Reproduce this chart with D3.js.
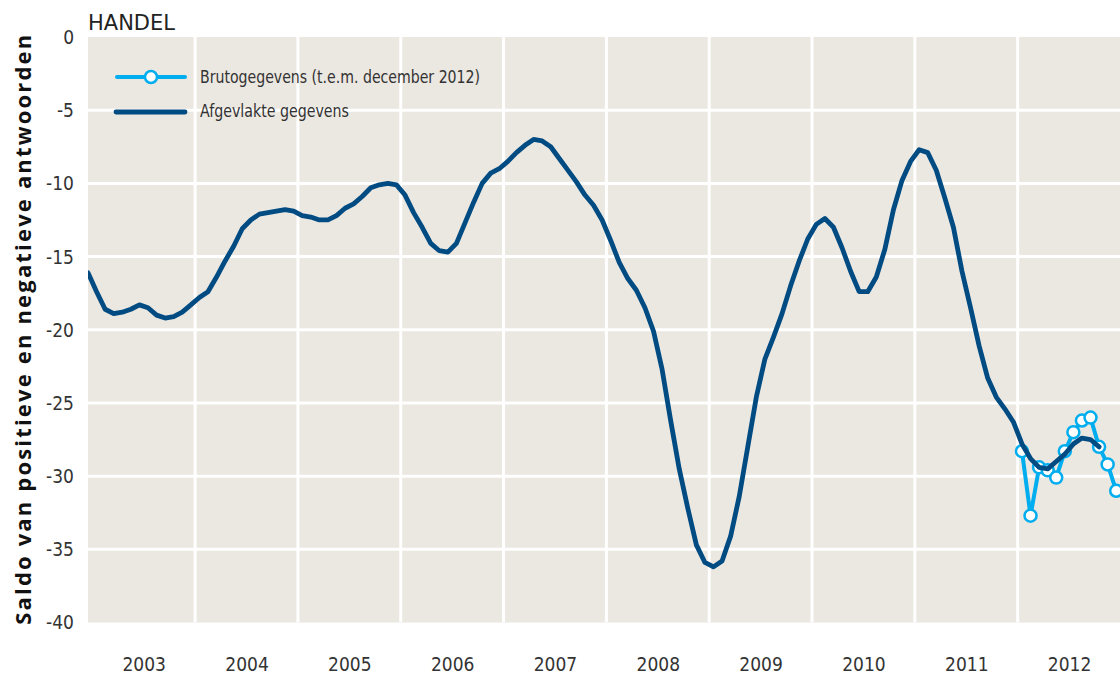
<!DOCTYPE html>
<html>
<head>
<meta charset="utf-8">
<script src="https://cdn.jsdelivr.net/npm/d3@7"></script>
<style>
  html, body { margin: 0; padding: 0; background: #ffffff; }
  svg { display: block; }
  .tick-label { font-family: "Liberation Sans Narrow", "DejaVu Sans Condensed", "Roboto", sans-serif; font-stretch: condensed; fill: #333; }
</style>
</head>
<body>
<svg id="chart" width="1120" height="673"></svg>
<script>
// Monthly smoothed series, December 2002 through October 2012
const smoothStart = { year: 2002, month: 12 };
const smoothValues = [
  -16.1, -17.4, -18.6, -18.9, -18.8, -18.6, -18.3, -18.5, -19.0, -19.2, -19.1, -18.8,
  -18.3, -17.8, -17.4, -16.4, -15.3, -14.3, -13.1, -12.5, -12.1, -12.0, -11.9, -11.8,
  -11.9, -12.2, -12.3, -12.5, -12.5, -12.2, -11.7, -11.4, -10.9, -10.3, -10.1, -10.0,
  -10.1, -10.8, -12.0, -13.0, -14.1, -14.6, -14.7, -14.1, -12.7, -11.3, -10.0, -9.3,
  -9.0, -8.5, -7.9, -7.4, -7.0, -7.1, -7.5, -8.3, -9.1, -9.9, -10.8, -11.5,
  -12.5, -13.9, -15.4, -16.5, -17.3, -18.5, -20.1, -22.7, -26.2, -29.5, -32.2, -34.7,
  -35.9, -36.2, -35.8, -34.1, -31.4, -28.0, -24.6, -22.0, -20.5, -18.9, -17.0, -15.3,
  -13.8, -12.8, -12.4, -13.0, -14.4, -16.0, -17.4, -17.4, -16.4, -14.5, -11.8, -9.8,
  -8.5, -7.7, -7.9, -9.1, -11.0, -13.0, -16.0, -18.5, -21.1, -23.3, -24.6, -25.4,
  -26.3, -27.8, -28.8, -29.4, -29.5, -29.0, -28.5, -27.8, -27.4, -27.5, -28.0
];

// Monthly raw series, January 2012 through December 2012
const rawStart = { year: 2012, month: 1 };
const rawValues = [-28.3, -32.7, -29.4, -29.6, -30.1, -28.3, -27.0, -26.2, -26.0, -28.0, -29.2, -31.0];

const yearLabels = ["2003", "2004", "2005", "2006", "2007", "2008", "2009", "2010", "2011", "2012"];
const yTicks = [0, -5, -10, -15, -20, -25, -30, -35, -40];

const title = "HANDEL";
const yTitle = "Saldo van positieve en negatieve antwoorden";
const legendRaw = "Brutogegevens (t.e.m. december 2012)";
const legendSmooth = "Afgevlakte gegevens";

const darkBlue = "#004b82";
const lightBlue = "#00aeef";
const plotBg = "#ebe7e1";

// Month position expressed as a fractional year, centred in the month
const monthTime = (start, i) => start.year + (start.month - 1 + i + 0.5) / 12;

const smooth = smoothValues.map((v, i) => ({ t: monthTime(smoothStart, i), v }));
const raw = rawValues.map((v, i) => ({ t: monthTime(rawStart, i), v }));

const plot = { left: 88, right: 1120, top: 37, bottom: 622.5 };

const x = d3.scaleLinear()
  .domain([monthTime(smoothStart, 0), 2013])
  .range([plot.left, plot.right + 0.5]);
const y = d3.scaleLinear()
  .domain([0, -40])
  .range([plot.top, plot.bottom]);

const svg = d3.select("#chart");

svg.append("defs").append("clipPath").attr("id", "plot-clip")
  .append("rect")
  .attr("x", plot.left).attr("y", plot.top)
  .attr("width", plot.right - plot.left).attr("height", plot.bottom - plot.top);

// Plot background
svg.append("rect")
  .attr("x", plot.left).attr("y", plot.top)
  .attr("width", plot.right - plot.left).attr("height", plot.bottom - plot.top)
  .attr("fill", plotBg);

// Grid lines
const grid = svg.append("g").attr("clip-path", "url(#plot-clip)");
grid.selectAll("line.h")
  .data(yTicks.filter(d => d !== 0 && d !== -40))
  .join("line")
  .attr("x1", plot.left).attr("x2", plot.right)
  .attr("y1", d => y(d)).attr("y2", d => y(d))
  .attr("stroke", "#ffffff").attr("stroke-width", 3);
grid.selectAll("line.v")
  .data(yearLabels.slice(1).map(Number))
  .join("line")
  .attr("x1", d => x(d)).attr("x2", d => x(d))
  .attr("y1", plot.top).attr("y2", plot.bottom)
  .attr("stroke", "#ffffff").attr("stroke-width", 3);

// Y axis tick labels
const yAxis = d3.axisLeft(y).tickValues(yTicks).tickSize(0).tickPadding(0)
  .tickFormat(d => d3.format("d")(d).replace("−", "-"));
const yAxisG = svg.append("g")
  .attr("transform", `translate(${plot.left - 14},0)`)
  .call(yAxis);
yAxisG.select(".domain").remove();
yAxisG.selectAll("text")
  .attr("class", "tick-label")
  .attr("font-size", 19)
  .attr("dy", "0.34em");

// X axis year labels, centred within each year
const xAxis = d3.axisBottom(x)
  .tickValues(yearLabels.map(d => +d + 0.5))
  .tickSize(0).tickPadding(0)
  .tickFormat(d => String(Math.floor(d)));
const xAxisG = svg.append("g")
  .attr("transform", `translate(0,${plot.bottom})`)
  .call(xAxis);
xAxisG.select(".domain").remove();
xAxisG.selectAll("text")
  .attr("class", "tick-label")
  .attr("font-size", 19)
  .attr("dy", 0)
  .attr("y", 48);

// Lines
const line = d3.line().x(d => x(d.t)).y(d => y(d.v));
const marks = svg.append("g").attr("clip-path", "url(#plot-clip)");

marks.append("path")
  .datum(raw)
  .attr("d", line)
  .attr("fill", "none")
  .attr("stroke", lightBlue)
  .attr("stroke-width", 4)
  .attr("stroke-linejoin", "round");

marks.selectAll("circle.raw")
  .data(raw)
  .join("circle")
  .attr("cx", d => x(d.t))
  .attr("cy", d => y(d.v))
  .attr("r", 6)
  .attr("fill", "#ffffff")
  .attr("stroke", lightBlue)
  .attr("stroke-width", 2.5);

marks.append("path")
  .datum(smooth)
  .attr("d", line)
  .attr("fill", "none")
  .attr("stroke", darkBlue)
  .attr("stroke-width", 4.8)
  .attr("stroke-linejoin", "round")
  .attr("stroke-linecap", "round");

// Legend
const legend = svg.append("g");
legend.append("line")
  .attr("x1", 117).attr("x2", 185).attr("y1", 77).attr("y2", 77)
  .attr("stroke", lightBlue).attr("stroke-width", 4).attr("stroke-linecap", "round");
legend.append("circle")
  .attr("cx", 151).attr("cy", 77).attr("r", 6)
  .attr("fill", "#ffffff").attr("stroke", lightBlue).attr("stroke-width", 2.5);
legend.append("text")
  .attr("class", "tick-label")
  .attr("x", 200).attr("y", 77).attr("dy", "0.35em")
  .attr("font-size", 18)
  .attr("textLength", 280)
  .attr("lengthAdjust", "spacingAndGlyphs")
  .text(legendRaw);
legend.append("line")
  .attr("x1", 116).attr("x2", 185).attr("y1", 112).attr("y2", 112)
  .attr("stroke", darkBlue).attr("stroke-width", 4.8).attr("stroke-linecap", "round");
legend.append("text")
  .attr("class", "tick-label")
  .attr("x", 200).attr("y", 111).attr("dy", "0.35em")
  .attr("font-size", 18)
  .attr("textLength", 149)
  .attr("lengthAdjust", "spacingAndGlyphs")
  .text(legendSmooth);

// Titles
svg.append("text")
  .attr("x", plot.left).attr("y", 30)
  .attr("font-family", "'Liberation Sans Narrow', 'DejaVu Sans Condensed', sans-serif")
  .attr("font-size", 22)
  .attr("fill", "#222")
  .attr("textLength", 87)
  .attr("lengthAdjust", "spacingAndGlyphs")
  .text(title);

svg.append("text")
  .attr("transform", `translate(31,${(plot.top + plot.bottom) / 2}) rotate(-90)`)
  .attr("text-anchor", "middle")
  .attr("font-family", "'Open Sans', 'DejaVu Sans', sans-serif")
  .attr("font-weight", 700)
  .attr("font-size", 22)
  .attr("fill", "#111")
  .attr("textLength", 590)
  .attr("lengthAdjust", "spacing")
  .text(yTitle);
</script>
</body>
</html>
